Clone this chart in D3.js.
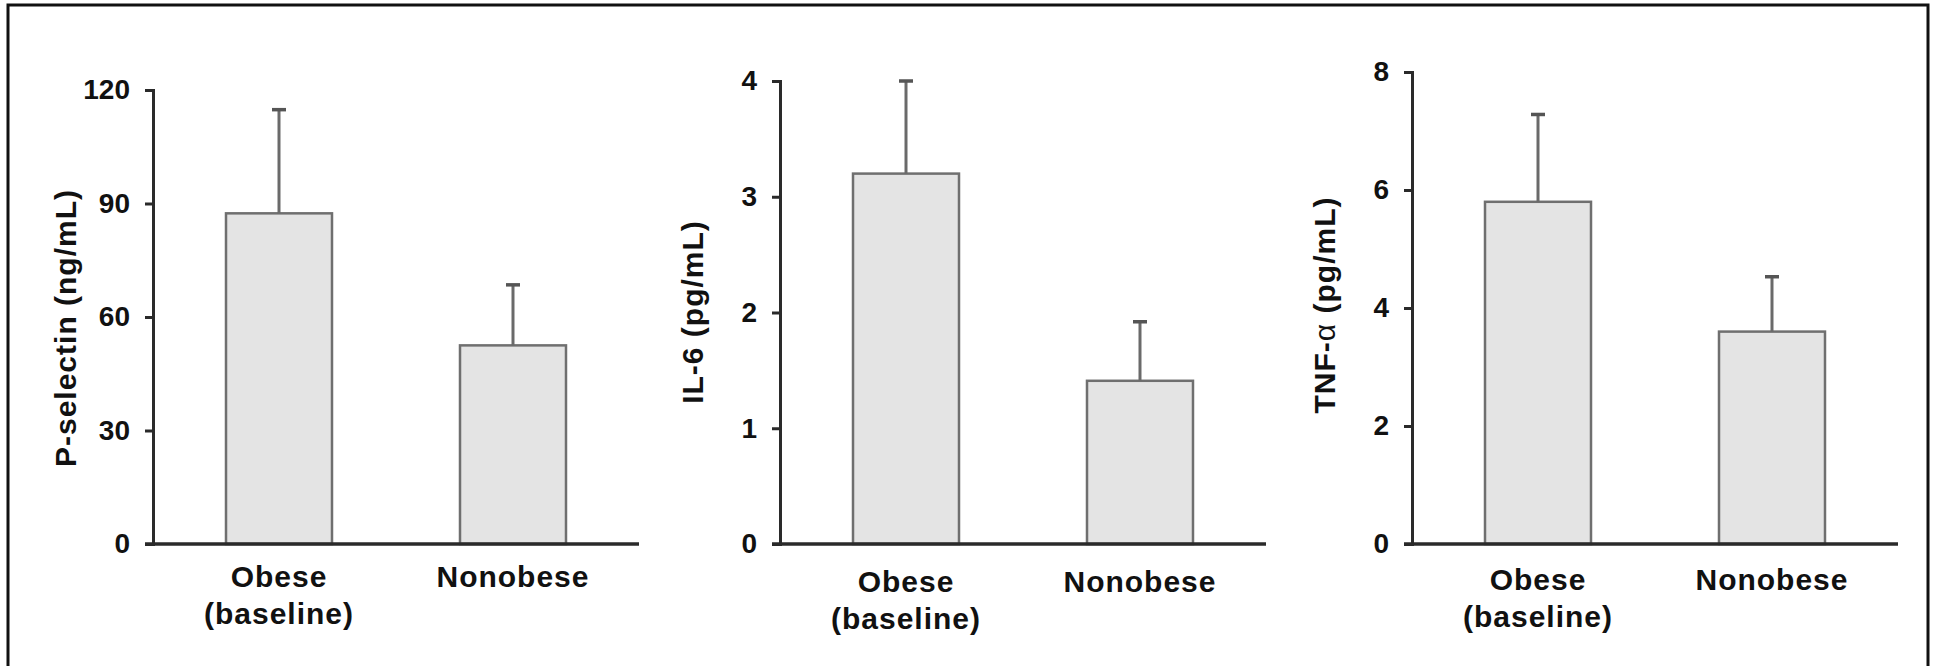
<!DOCTYPE html>
<meta charset="utf-8">
<style>
body{
	margin:0;
	background:#fff;
	font-family:"Liberation Sans",Arial,sans-serif;
}
svg text{
	font-weight:bold;
	fill:#111;
}
</style>
<script src="https://cdn.jsdelivr.net/npm/d3@7"></script>
<div id="chart"></div>

<script>

// categories shared by the three panels
var categories = ["Obese (baseline)", "Nonobese"]
var categoryLines = [["Obese", "(baseline)"], ["Nonobese"]]

// P-selectin (ng/mL)
var pselMean = [87.4, 52.5]
var pselErr = [27.4, 16]
var pselTicks = [0, 30, 60, 90, 120]

// IL-6 (pg/mL)
var il6Mean = [3.2, 1.41]
var il6Err = [0.8, 0.51]
var il6Ticks = [0, 1, 2, 3, 4]

// TNF-alpha (pg/mL)
var tnfMean = [5.8, 3.6]
var tnfErr = [1.48, 0.93]
var tnfTicks = [0, 2, 4, 6, 8]

var W = 1937, H = 666

var svg = d3.select("#chart").append("svg")
	.attr("width", W).attr("height", H)

// outer frame, open at the bottom like the scanned figure
svg.append("rect")
	.attr("x", 8).attr("y", 5)
	.attr("width", 1920).attr("height", 720)
	.attr("fill", "none").attr("stroke", "#111").attr("stroke-width", 3)

var panels = [
	{title: "P-selectin (ng/mL)", mean: pselMean, err: pselErr, ticks: pselTicks,
	 left: 153, top: 90, labelY: 328, catDy: 43},
	{title: "IL-6 (pg/mL)", mean: il6Mean, err: il6Err, ticks: il6Ticks,
	 left: 780, top: 81, labelY: 312, catDy: 48},
	{title: "TNF-", greek: "\u03b1", rest: " (pg/mL)", mean: tnfMean, err: tnfErr, ticks: tnfTicks,
	 left: 1412, top: 72, labelY: 305, catDy: 46}
]

var bottom = 544
var plotW = 486

panels.forEach(function(p){
	var g = svg.append("g").attr("transform", "translate(" + p.left + ",0)")

	var y = d3.scaleLinear()
		.domain([p.ticks[0], p.ticks[p.ticks.length - 1]])
		.range([bottom, p.top])

	var x = d3.scaleBand()
		.domain(categories)
		.range([0, plotW])
		.paddingInner(0.547)
		.paddingOuter(0.312)

	// bars
	g.selectAll("rect.bar").data(categories).enter().append("rect")
		.attr("class", "bar")
		.attr("x", function(d){ return x(d) })
		.attr("width", x.bandwidth())
		.attr("y", function(d, i){ return y(p.mean[i]) })
		.attr("height", function(d, i){ return bottom - y(p.mean[i]) })
		.attr("fill", "#e4e4e4")
		.attr("stroke", "#6f6f6f")
		.attr("stroke-width", 2.5)

	// error bars (upper only)
	var eb = g.selectAll("g.err").data(categories).enter().append("g")
		.attr("class", "err")
	eb.append("line")
		.attr("x1", function(d){ return x(d) + x.bandwidth() / 2 })
		.attr("x2", function(d){ return x(d) + x.bandwidth() / 2 })
		.attr("y1", function(d, i){ return y(p.mean[i]) })
		.attr("y2", function(d, i){ return y(p.mean[i] + p.err[i]) })
		.attr("stroke", "#6a6a6a").attr("stroke-width", 3)
	eb.append("line")
		.attr("x1", function(d){ return x(d) + x.bandwidth() / 2 - 7 })
		.attr("x2", function(d){ return x(d) + x.bandwidth() / 2 + 7 })
		.attr("y1", function(d, i){ return y(p.mean[i] + p.err[i]) })
		.attr("y2", function(d, i){ return y(p.mean[i] + p.err[i]) })
		.attr("stroke", "#555").attr("stroke-width", 3.5)

	// y axis
	var ya = g.append("g")
		.call(d3.axisLeft(y).tickValues(p.ticks).tickFormat(d3.format("d"))
			.tickSize(8).tickSizeOuter(8).tickPadding(15))
	ya.selectAll("path, line").attr("stroke", "#2a2a2a").attr("stroke-width", 3)
	ya.selectAll("text")
		.attr("font-size", 28)
		.attr("font-family", "'Liberation Sans',Arial,sans-serif")
		.attr("font-weight", "bold")
		.attr("fill", "#111")

	// x axis line
	g.append("line")
		.attr("x1", -8).attr("x2", plotW)
		.attr("y1", bottom).attr("y2", bottom)
		.attr("stroke", "#2a2a2a").attr("stroke-width", 3.5)

	// category labels
	categories.forEach(function(c, i){
		var t = g.append("text")
			.attr("text-anchor", "middle")
			.attr("font-size", 30)
			.attr("letter-spacing", 1)
		categoryLines[i].forEach(function(line, k){
			t.append("tspan")
				.attr("x", x(c) + x.bandwidth() / 2)
				.attr("y", bottom + p.catDy + k * 37)
				.text(line)
		})
	})

	// y axis title
	var lt = g.append("text")
		.attr("transform", "translate(-77," + p.labelY + ") rotate(-90)")
		.attr("text-anchor", "middle")
		.attr("font-size", 30)
		.attr("letter-spacing", 1)
	lt.append("tspan").text(p.title)
	if (p.greek) {
		lt.append("tspan").attr("font-weight", "normal").text(p.greek)
		lt.append("tspan").text(p.rest)
	}
})

</script>
